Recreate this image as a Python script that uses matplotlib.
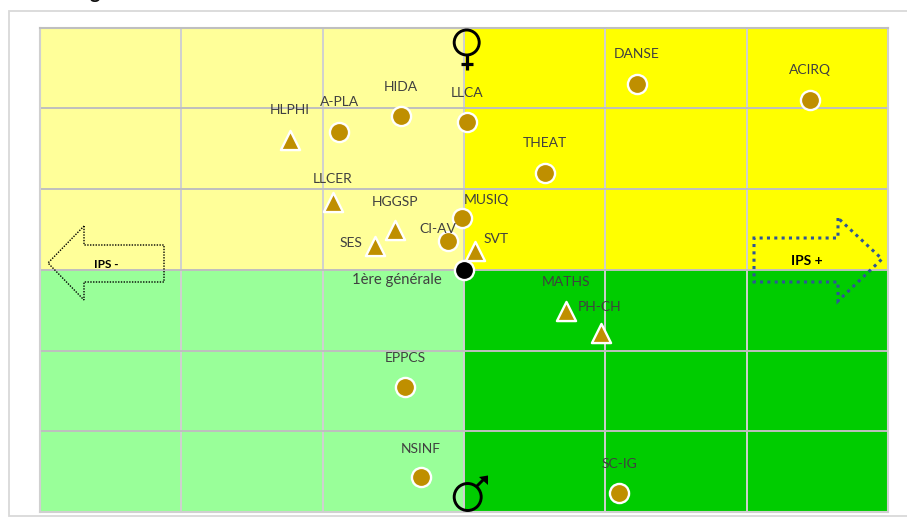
import numpy as np
import matplotlib
matplotlib.use("Agg")
import matplotlib.pyplot as plt
from matplotlib.patches import Rectangle, Polygon, Circle

W, H = 907, 520

circle_names = ["DANSE", "ACIRQ", "HIDA", "A-PLA", "LLCA", "THEAT", "MUSIQ", "CI-AV", "EPPCS", "NSINF", "SC-IG"]
circle_x = [1.224, 2.448, -0.446, -0.881, 0.021, 0.573, -0.014, -0.113, -0.417, -0.304, 1.100]
circle_y = [2.306, 2.107, 1.903, 1.711, 1.835, 1.202, 0.645, 0.353, -1.450, -2.560, -2.764]

triangle_names = ["HLPHI", "LLCER", "HGGSP", "SES", "SVT", "MATHS", "PH-CH"]
triangle_x = [-1.231, -0.930, -0.488, -0.633, 0.078, 0.722, 0.969]
triangle_y = [1.612, 0.843, 0.496, 0.298, 0.236, -0.508, -0.781]

ref_name = "1ère générale"
ref_x = [0.0]
ref_y = [0.0]

# label offsets from the marker, in pixels (dx, dy with y going up)
label_offsets = {
    "DANSE": (0, 30), "ACIRQ": (0, 30), "HIDA": (0, 29), "A-PLA": (0, 30), "LLCA": (0, 29),
    "THEAT": (0, 30), "MUSIQ": (24, 18), "CI-AV": (-10, 12), "EPPCS": (0, 29), "NSINF": (0, 28),
    "SC-IG": (0, 29), "HLPHI": (0, 30), "LLCER": (0, 23), "HGGSP": (0, 28), "SES": (-24, 3),
    "SVT": (21, 12), "MATHS": (0, 29), "PH-CH": (-1, 26),
}


def px(x, y):
    return x, H - y


fig = plt.figure(figsize=(W / 100, H / 100), dpi=100)
plt.rcParams["font.family"] = ["Lato", "DejaVu Sans"]

# overlay in pixel coordinates for the frame, arrows and gender signs
bg = fig.add_axes([0, 0, 1, 1], zorder=0)
bg.set_xlim(0, W)
bg.set_ylim(0, H)
bg.axis("off")
bg.add_patch(Rectangle(px(8.5, 515.5), 920, 505, fc="white", ec="#d9d9d9", lw=1.3))
bg.text(95, H + 7, "g", fontsize=14, fontweight="bold", ha="center", va="center", color="#111111")

ax = fig.add_axes([40 / W, 1 - 512.2 / H, 848 / W, 484.7 / H], zorder=1)
ax.set_xlim(-3, 3)
ax.set_ylim(-3, 3)
ax.add_patch(Rectangle((-3, 0), 3, 3, fc="#ffff99", ec="none", zorder=0))
ax.add_patch(Rectangle((0, 0), 3, 3, fc="#ffff00", ec="none", zorder=0))
ax.add_patch(Rectangle((-3, -3), 3, 3, fc="#99ff99", ec="none", zorder=0))
ax.add_patch(Rectangle((0, -3), 3, 3, fc="#00cc00", ec="none", zorder=0))
ax.set_xticks(np.arange(-3, 4))
ax.set_yticks(np.arange(-3, 4))
ax.grid(True, axis="x", color="#d0d0d0", lw=1.4, zorder=1)
ax.grid(True, axis="y", color="#bfbfbf", lw=1.4, zorder=1)
ax.tick_params(left=False, bottom=False, labelleft=False, labelbottom=False)
for name, s in ax.spines.items():
    s.set_color("#bfbfbf" if name == "top" else "#d0d0d0")
    s.set_linewidth(1.5)

ax.scatter(circle_x, circle_y, s=190, c="#bf8f00", edgecolors="white", linewidths=1.7, zorder=3, clip_on=False)
ax.scatter(triangle_x, triangle_y, s=190, marker="^", c="#bf8f00", edgecolors="white", linewidths=1.7, zorder=3)
ax.scatter(ref_x, ref_y, s=190, c="black", edgecolors="white", linewidths=1.7, zorder=4)

for names, xs, ys in [(circle_names, circle_x, circle_y), (triangle_names, triangle_x, triangle_y)]:
    for name, x, y in zip(names, xs, ys):
        dx, dy = label_offsets[name]
        ax.annotate(name, (x, y), xytext=(dx * 0.72, dy * 0.72), textcoords="offset points",
                    ha="center", va="center", fontsize=10, color="#404040", zorder=5)
ax.annotate(ref_name, (0, 0), xytext=(-48.5, -7), textcoords="offset points",
            ha="center", va="center", fontsize=10.7, color="#404040", zorder=5)

# overlay on top of the plot
top = fig.add_axes([0, 0, 1, 1], zorder=2)
top.set_xlim(0, W)
top.set_ylim(0, H)
top.axis("off")
top.patch.set_alpha(0)

left_arrow = [(84, 226), (84, 245), (164, 245), (164, 282), (84, 282), (84, 300), (48, 263)]
top.add_patch(Polygon([px(*p) for p in left_arrow], closed=True, fc="none", ec="black", lw=1.0, ls=(0, (1, 1))))
top.text(*px(106, 265), "IPS -", fontsize=8.5, fontweight="bold", ha="center", va="center", color="black")

right_arrow = [(838, 218), (838, 238), (754, 238), (754, 282), (838, 282), (838, 301), (882, 259)]
top.add_patch(Polygon([px(*p) for p in right_arrow], closed=True, fc="none", ec="#2f5597", lw=2.2, ls=(0, (1, 1.4))))
top.text(*px(807, 261), "IPS +", fontsize=10, fontweight="bold", ha="center", va="center", color="black")

# female sign
top.add_patch(Circle(px(466.7, 42.5), 12.5, fc="none", ec="black", lw=2.1))
top.plot(*zip(px(466.7, 55), px(466.7, 70)), color="black", lw=2.3, solid_capstyle="butt")
top.plot(*zip(px(460.5, 64), px(472.5, 64)), color="black", lw=2.3, solid_capstyle="butt")

# male sign
top.add_patch(Circle(px(467.7, 497), 13.5, fc="none", ec="black", lw=2.1))
top.plot(*zip(px(476, 487), px(484, 479)), color="black", lw=2.1, solid_capstyle="butt")
top.add_patch(Polygon([px(479, 477), px(488, 475.5), px(488, 485)], closed=True, fc="black", ec="none"))

fig.savefig("out.png", dpi=100)
